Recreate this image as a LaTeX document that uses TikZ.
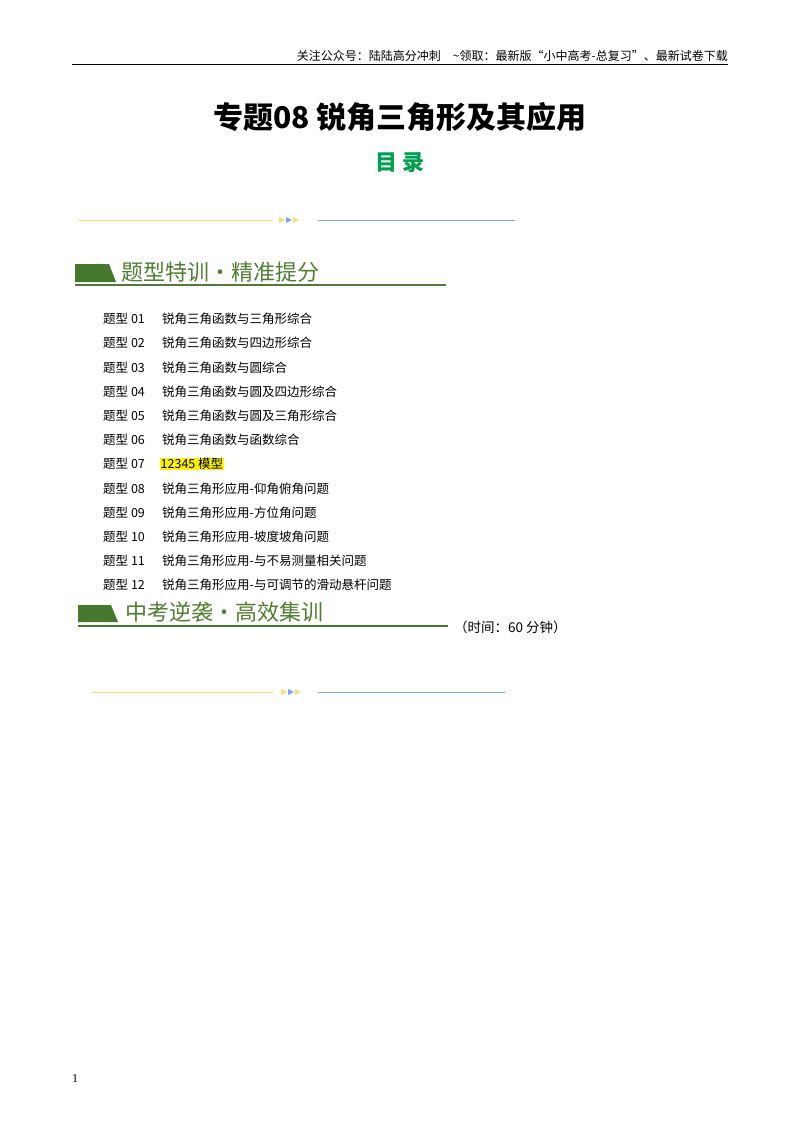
\documentclass[tikz,border=0pt]{standalone}
\usepackage{fontspec}
\setmainfont{Liberation Serif}
\newfontfamily\cjk{Noto Sans CJK SC}
\begin{document}
\begin{tikzpicture}[x=1pt,y=-1pt,
  hdr/.style={font=\cjk\fontsize{12}{14}\selectfont,anchor=east,inner sep=0},
  item/.style={font=\cjk\fontsize{12.5}{14}\selectfont,anchor=west,inner sep=0},
  ban/.style={font=\cjk\fontsize{22}{25}\selectfont,text={rgb,255:red,80;green,125;blue,50},anchor=west,inner sep=0}]
\useasboundingbox (0,0) rectangle (800,1132);
\fill[white] (0,0) rectangle (800,1132);
\node[hdr] (h) at (728,56) {关注公众号：陆陆高分冲刺\quad \~{}领取：最新版“小中高考-总复习”、最新试卷下载};
\draw[line width=0.8] (72,64) -- (728,64);
\node[font=\cjk\bfseries\fontsize{30}{33}\selectfont,inner sep=0] (t) at (400,117) {专题08\ 锐角三角形及其应用};
\node[font=\cjk\bfseries\fontsize{22}{25}\selectfont,text={rgb,255:red,0;green,160;blue,80},inner sep=0] (m) at (400,163) {目\ 录};
% deco 1
\definecolor{yl}{RGB}{250,220,120}\definecolor{bl}{RGB}{120,170,230}\definecolor{gr}{RGB}{70,120,45}
\draw[yl,line width=0.8] (78,220) -- (273,220);
\fill[yl] (279,217)--(285,220)--(279,223)--cycle;
\fill[bl] (286,217)--(292,220)--(286,223)--cycle;
\fill[yl] (293,217)--(299,220)--(293,223)--cycle;
\draw[bl,line width=0.8] (318,220) -- (515,220);
% banner 1
\fill[gr] (75,264)--(109,264)--(116,282)--(75,282)--cycle;
\node[ban] (b1) at (121,272) {题型特训·精准提分};
\draw[gr!80!gray,line width=1.2] (75,285) -- (446,285);
\foreach \n/\xx/\t [count=\i from 0] in {01/162/锐角三角函数与三角形综合,02/162/锐角三角函数与四边形综合,03/162/锐角三角函数与圆综合,04/162/锐角三角函数与圆及四边形综合,05/162/锐角三角函数与圆及三角形综合,06/162/锐角三角函数与函数综合,07/160/{\setlength{\fboxsep}{0.5pt}\colorbox{yellow}{12345 模型}},08/162/锐角三角形应用-仰角俯角问题,09/162/锐角三角形应用-方位角问题,10/162/锐角三角形应用-坡度坡角问题,11/162/锐角三角形应用-与不易测量相关问题,12/162/锐角三角形应用-与可调节的滑动悬杆问题}{
  \node[item] (l\i) at (103,{319+24.2*\i}) {题型 \n};
  \node[item] (x\i) at (\xx,{319+24.2*\i}) {\t};
}
% banner 2
\fill[gr] (78,605)--(111,605)--(118,622)--(78,622)--cycle;
\node[ban] (b2) at (125,612) {中考逆袭·高效集训};
\draw[gr,line width=1.2] (78,626) -- (448,626);
\node[font=\cjk\fontsize{13.5}{16}\selectfont,anchor=west,inner sep=0] (tm) at (454,627) {（时间：60 分钟）};
% deco 2
\draw[yl,line width=0.8] (92,692) -- (273,692);
\fill[yl] (281,689)--(287,692)--(281,695)--cycle;
\fill[bl] (288,689)--(294,692)--(288,695)--cycle;
\fill[yl] (295,689)--(301,692)--(295,695)--cycle;
\draw[bl,line width=0.8] (318,692) -- (505,692);
\node[font=\fontsize{12}{14}\selectfont,inner sep=0] (pg) at (75,1079) {1};
\end{tikzpicture}
\end{document}
